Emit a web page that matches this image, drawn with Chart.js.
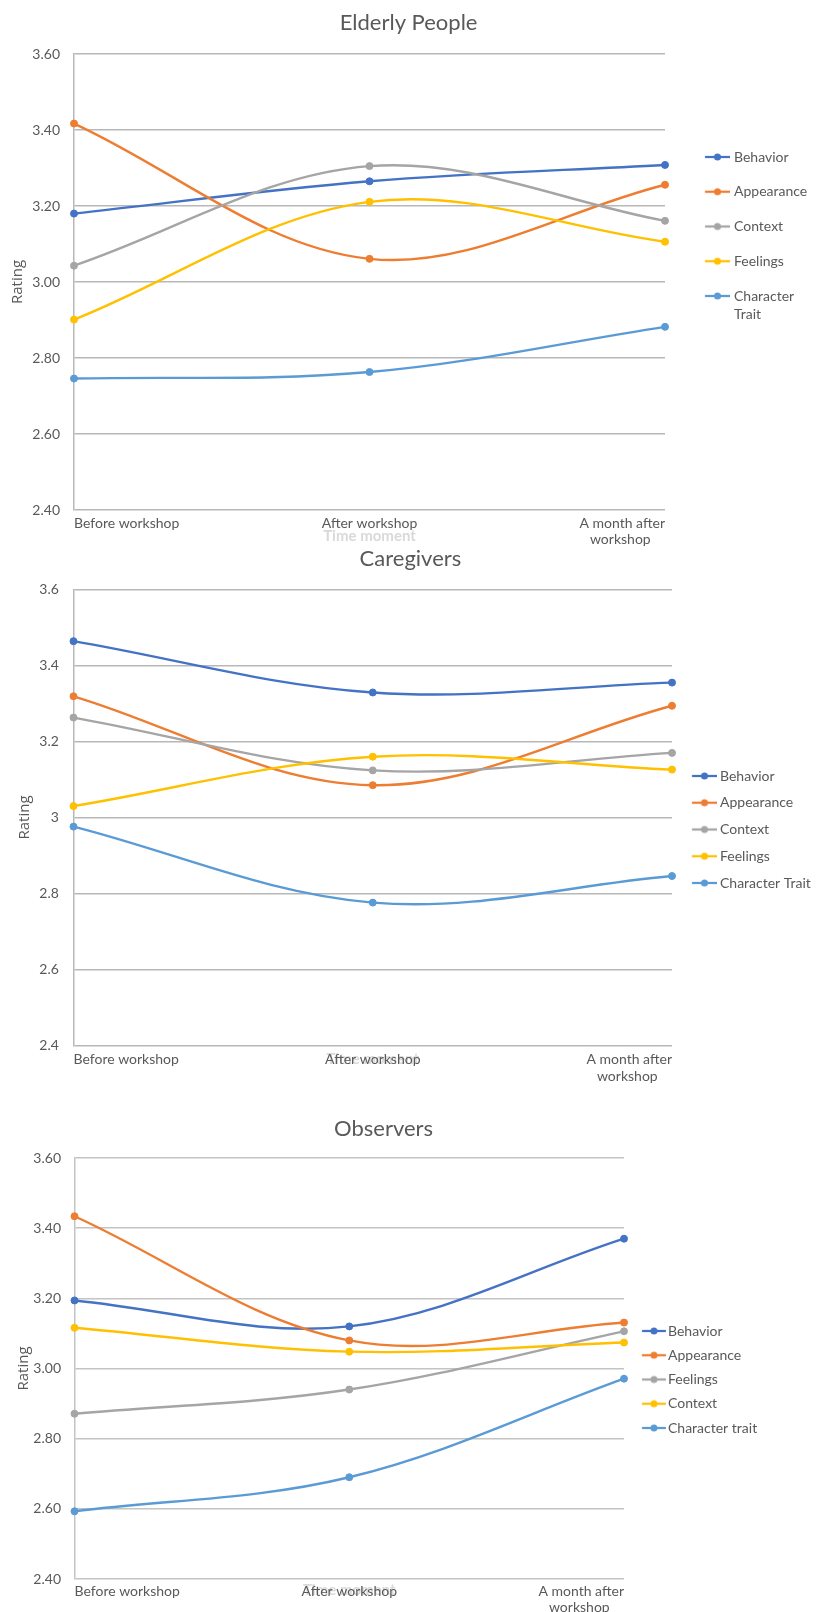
<!DOCTYPE html>
<html>
<head>
<meta charset="utf-8">
<title>Rating per time moment</title>
<script src="https://cdn.jsdelivr.net/npm/chart.js@4.4.1/dist/chart.umd.min.js"></script>
<style>
    body { margin: 0; background: #fff; width: 817px; height: 1612px; overflow: hidden; position: relative; }
    .panel { position: absolute; left: 0; width: 817px; }
</style>
</head>
<body>
<div class="panel" style="top:0;height:555px"><canvas id="elderlyChart"></canvas></div>
<div class="panel" style="top:545px;height:545px"><canvas id="caregiversChart"></canvas></div>
<div class="panel" style="top:1080px;height:532px"><canvas id="observersChart"></canvas></div>
<script>
// x categories
const timeMoments = ['Before workshop', 'After workshop', ['A month after', 'workshop']];

// y tick labels (bottom to top)
const ratingTicks2 = ['2.40', '2.60', '2.80', '3.00', '3.20', '3.40', '3.60'];
const ratingTicks1 = ['2.4', '2.6', '2.8', '3', '3.2', '3.4', '3.6'];

// Elderly People
const elderlyNames = ['Behavior', 'Appearance', 'Context', 'Feelings', 'Character Trait'];
const elderlyLegend = ['Behavior', 'Appearance', 'Context', 'Feelings', ['Character', 'Trait']];
const elderlyBehavior = [3.18, 3.265, 3.308];
const elderlyAppearance = [3.417, 3.061, 3.256];
const elderlyContext = [3.043, 3.305, 3.161];
const elderlyFeelings = [2.901, 3.211, 3.106];
const elderlyTrait = [2.746, 2.763, 2.882];

// Caregivers
const caregiverNames = ['Behavior', 'Appearance', 'Context', 'Feelings', 'Character Trait'];
const caregiverBehavior = [3.464, 3.329, 3.355];
const caregiverAppearance = [3.319, 3.085, 3.294];
const caregiverContext = [3.263, 3.124, 3.170];
const caregiverFeelings = [3.030, 3.160, 3.126];
const caregiverTrait = [2.976, 2.776, 2.846];

// Observers
const observerNames = ['Behavior', 'Appearance', 'Feelings', 'Context', 'Character trait'];
const observerBehavior = [3.194, 3.120, 3.370];
const observerAppearance = [3.434, 3.080, 3.131];
const observerFeelings = [2.871, 2.940, 3.106];
const observerContext = [3.116, 3.048, 3.074];
const observerTrait = [2.593, 2.690, 2.971];

const textColor = '#595959';
const faintColor = '#d9d9d9';

// legend marker: short line with a dot, drawn around the legend box centre
function markerImage(color, centerX, from, to) {
    const half = Math.max(centerX - from, to - centerX);
    const c = document.createElement('canvas');
    c.width = Math.round(half * 2);
    c.height = 10;
    const g = c.getContext('2d');
    const x0 = c.width / 2 - (centerX - from);
    const x1 = c.width / 2 + (to - centerX);
    g.strokeStyle = color;
    g.lineWidth = 2.25;
    g.beginPath();
    g.moveTo(x0, 5);
    g.lineTo(x1, 5);
    g.stroke();
    g.fillStyle = color;
    g.beginPath();
    g.arc((x0 + x1) / 2, 5, 3.5, 0, Math.PI * 2);
    g.fill();
    return c;
}

function makeChart(canvasId, titleText, p, names, legendText, series, colors, yLabels) {
    const fontSize = 14;
    const boxW = p.textX - fontSize / 2 - p.right - p.legendGap;
    const centerX = p.right + p.legendGap + boxW / 2;
    const markers = colors.map(c => markerImage(c, centerX, p.lineFrom, p.lineTo));
    const titleLh = 22 * 1.2;
    const legendTitleH = p.legendY - fontSize / 2 - p.legendGap;

    const datasets = series.map((values, i) => ({
        label: names[i],
        data: values,
        borderColor: colors[i],
        backgroundColor: colors[i],
        pointBackgroundColor: colors[i],
        pointBorderColor: colors[i],
        order: series.length - i,
        clip: false
    }));

    const options = {
        responsive: true,
        maintainAspectRatio: false,
        animation: false,
        layout: { padding: { left: 0, top: 0, bottom: 0, right: 0 } },
        elements: {
            line: { tension: 0.35, borderWidth: 2.4 },
            point: { radius: 3.5, hoverRadius: 3.5, borderWidth: 1 }
        },
        plugins: {
            title: {
                display: true,
                text: titleText,
                color: textColor,
                font: { family: 'Lato', size: 22, weight: 'normal', lineHeight: 1.2 },
                padding: { top: p.titleY - titleLh / 2, bottom: p.plotTop - p.titleY - titleLh / 2 }
            },
            legend: {
                position: 'right',
                align: 'start',
                title: { display: true, text: '', font: { size: 10, lineHeight: 1 }, padding: { top: legendTitleH - 10, bottom: 0 } },
                labels: {
                    usePointStyle: true,
                    pointStyleWidth: boxW,
                    padding: p.legendGap,
                    color: textColor,
                    font: { family: 'Lato', size: fontSize, lineHeight: 1.35 },
                    generateLabels: chart => chart.data.datasets.map((ds, i) => ({
                        text: legendText[i],
                        fillStyle: ds.borderColor,
                        strokeStyle: ds.borderColor,
                        fontColor: textColor,
                        lineWidth: 0,
                        hidden: !chart.isDatasetVisible(i),
                        datasetIndex: i,
                        pointStyle: markers[i]
                    }))
                }
            },
            tooltip: { enabled: false }
        },
        scales: {
            x: {
                type: 'category',
                offset: false,
                grid: { display: false, drawTicks: false },
                border: { display: false },
                ticks: {
                    align: 'inner',
                    autoSkip: false,
                    maxRotation: 0,
                    padding: p.xTickPad,
                    color: textColor,
                    font: { family: 'Lato', size: 14, lineHeight: 1.2 },
                    callback: function (value) {
                        const lab = this.getLabelForValue(value);
                        return Array.isArray(lab) ? [lab[0], lab[1] + '\u00a0\u00a0\u00a0\u00a0'] : lab;
                    }
                },
                title: {
                    display: true,
                    text: 'Time moment',
                    color: faintColor,
                    font: { family: 'Lato', size: 15, weight: 'bold', lineHeight: 1.2 },
                    padding: { top: 0, bottom: p.height - p.xTitleY - 9 }
                },
                afterFit: s => { s.height = p.height - p.plotBottom; }
            },
            y: {
                min: 2.4,
                max: 3.6,
                ticks: {
                    stepSize: 0.2,
                    padding: p.yTickPad,
                    color: textColor,
                    font: { family: 'Lato', size: 14 },
                    callback: (v, i) => yLabels[i]
                },
                grid: { color: p.gridColor, lineWidth: 1.5, drawTicks: false },
                border: { display: true, color: p.gridColor, width: 1.5 },
                title: {
                    display: true,
                    text: 'Rating',
                    color: textColor,
                    font: { family: 'Open Sans', size: 15, lineHeight: 1.2 },
                    padding: { top: p.ratingX - 9, bottom: 0 }
                },
                afterFit: s => { s.width = p.left; }
            }
        }
    };

    const chart = new Chart(document.getElementById(canvasId), {
        type: 'line',
        data: { labels: timeMoments, datasets: datasets },
        options: options
    });
    // pin the right edge of the plot area
    options.layout.padding.right += chart.chartArea.right - p.right;
    chart.update();
    return chart;
}

const officeColors = ['#4472C4', '#ED7D31', '#A5A5A5', '#FFC000', '#5B9BD5'];

makeChart('elderlyChart', 'Elderly People', {
    height: 555, left: 74, right: 665, plotTop: 54, plotBottom: 510,
    titleY: 23, ratingX: 18, yTickPad: 14, xTickPad: 4.6, xTitleY: 536,
    legendY: 157, legendGap: 20.75, lineFrom: 705, lineTo: 730, textX: 734, gridColor: '#b8b8b8'
}, elderlyNames, elderlyLegend,
    [elderlyBehavior, elderlyAppearance, elderlyContext, elderlyFeelings, elderlyTrait],
    officeColors, ratingTicks2);

makeChart('caregiversChart', 'Caregivers', {
    height: 545, left: 73.5, right: 672, plotTop: 44.5, plotBottom: 500.5,
    titleY: 14, ratingX: 25, yTickPad: 14.6, xTickPad: 6, xTitleY: 514,
    legendY: 231, legendGap: 12.75, lineFrom: 692, lineTo: 717, textX: 720, gridColor: '#b8b8b8'
}, caregiverNames, caregiverNames,
    [caregiverBehavior, caregiverAppearance, caregiverContext, caregiverFeelings, caregiverTrait],
    officeColors, ratingTicks1);

makeChart('observersChart', 'Observers', {
    height: 532, left: 74.5, right: 624, plotTop: 78, plotBottom: 499,
    titleY: 48.5, ratingX: 23.5, yTickPad: 13.5, xTickPad: 3.6, xTitleY: 510,
    legendY: 251, legendGap: 10.25, lineFrom: 642, lineTo: 666, textX: 668, gridColor: '#c4c4c4'
}, observerNames, observerNames,
    [observerBehavior, observerAppearance, observerFeelings, observerContext, observerTrait],
    officeColors, ratingTicks2);
</script>
</body>
</html>
